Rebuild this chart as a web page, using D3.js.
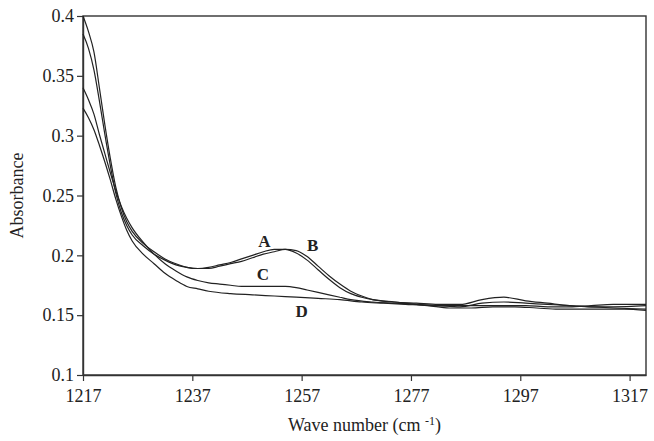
<!DOCTYPE html>
<html lang="en">
<head>
<meta charset="UTF-8">
<title>Absorbance</title>
<script src="https://d3js.org/d3.v7.min.js"></script>
<style>
  body { margin: 0; background: #fff; }
  text { font-family: "Liberation Serif", "Times New Roman", serif; fill: #222; }
  .curve { fill: none; stroke: #222; stroke-width: 1.2; }
</style>
</head>
<body>
<div id="chart"></div>
<script>
// wave numbers per spectrum
const waveA = [1217,1218,1219,1220,1221,1222,1223,1224,1225,1226,1228,1230,1232,1234,1236,1238,1240,1242,1244,1246,1248,1250,1252,1254,1256,1258,1260,1262,1264,1266,1268,1270,1274,1278,1282,1286,1290,1294,1298,1302,1306,1310,1314,1320];
const absA  = [0.400,0.387,0.370,0.340,0.309,0.281,0.257,0.240,0.228,0.220,0.210,0.203,0.197,0.193,0.190,0.189,0.190,0.192,0.194,0.197,0.200,0.203,0.205,0.205,0.202,0.196,0.188,0.180,0.173,0.168,0.165,0.163,0.161,0.160,0.159,0.159,0.163,0.165,0.162,0.160,0.158,0.157,0.156,0.155];

const waveB = [1217,1218,1219,1220,1221,1222,1223,1224,1225,1226,1228,1230,1232,1234,1236,1238,1240,1242,1244,1246,1248,1250,1252,1254,1256,1258,1260,1262,1264,1266,1268,1270,1274,1278,1282,1286,1290,1294,1298,1302,1306,1310,1314,1320];
const absB  = [0.385,0.373,0.355,0.329,0.301,0.275,0.252,0.236,0.225,0.217,0.208,0.201,0.196,0.192,0.190,0.189,0.189,0.191,0.193,0.195,0.198,0.201,0.203,0.205,0.204,0.199,0.191,0.183,0.176,0.170,0.166,0.163,0.161,0.159,0.158,0.157,0.160,0.161,0.160,0.159,0.158,0.157,0.157,0.158];

const waveC = [1217,1218,1219,1220,1221,1222,1223,1224,1225,1226,1228,1230,1232,1234,1236,1238,1240,1242,1244,1246,1250,1254,1256,1258,1260,1262,1264,1266,1270,1274,1278,1282,1286,1290,1294,1298,1302,1306,1310,1314,1320];
const absC  = [0.340,0.330,0.318,0.301,0.285,0.269,0.254,0.241,0.231,0.223,0.211,0.201,0.193,0.187,0.182,0.179,0.177,0.176,0.175,0.174,0.174,0.174,0.173,0.171,0.169,0.167,0.165,0.163,0.161,0.160,0.159,0.158,0.158,0.158,0.158,0.158,0.157,0.157,0.158,0.159,0.159];

const waveD = [1217,1218,1219,1220,1221,1222,1223,1224,1225,1226,1228,1230,1232,1234,1236,1238,1240,1244,1248,1252,1256,1260,1264,1268,1272,1276,1280,1284,1288,1292,1296,1300,1304,1308,1312,1316,1320];
const absD  = [0.323,0.315,0.305,0.292,0.278,0.263,0.247,0.233,0.221,0.212,0.201,0.193,0.185,0.179,0.174,0.172,0.170,0.168,0.167,0.166,0.165,0.164,0.163,0.161,0.160,0.159,0.158,0.156,0.156,0.157,0.157,0.156,0.155,0.155,0.155,0.155,0.154];

const curveNames = ["A", "B", "C", "D"];
const labelWave = [1250.2, 1259.0, 1249.9, 1257.0];
const labelAbs  = [0.2114, 0.2078, 0.1836, 0.1532];

const xTicks = [1217, 1237, 1257, 1277, 1297, 1317];
const yTicks = [0.1, 0.15, 0.2, 0.25, 0.3, 0.35, 0.4];

const width = 654, height = 441;
const margin = { top: 16, right: 8, bottom: 66, left: 83 };

const svg = d3.select("#chart").append("svg")
  .attr("width", width)
  .attr("height", height);

const x = d3.scaleLinear().domain([1217, 1320]).range([margin.left, width - margin.right]);
const y = d3.scaleLinear().domain([0.1, 0.4]).range([height - margin.bottom, margin.top]);

// frame
svg.append("rect")
  .attr("x", margin.left).attr("y", margin.top)
  .attr("width", width - margin.left - margin.right)
  .attr("height", height - margin.top - margin.bottom)
  .attr("fill", "none").attr("stroke", "#333").attr("stroke-width", 1.4);

// axes
const xAxis = svg.append("g")
  .attr("transform", `translate(0,${height - margin.bottom})`)
  .call(d3.axisBottom(x).tickValues(xTicks).tickFormat(d3.format("d")).tickSize(6).tickSizeOuter(0));
const yAxis = svg.append("g")
  .attr("transform", `translate(${margin.left},0)`)
  .call(d3.axisLeft(y).tickValues(yTicks).tickFormat(d => String(+d.toFixed(2))).tickSize(6).tickSizeOuter(0));

[xAxis, yAxis].forEach(g => {
  g.select(".domain").attr("stroke", "#333").attr("stroke-width", 1.4);
  g.selectAll(".tick line").attr("stroke", "#333").attr("stroke-width", 1.2);
  g.selectAll(".tick text")
    .style("font-family", '"Liberation Serif", "Times New Roman", serif')
    .style("font-size", "18px").attr("fill", "#222");
});
xAxis.selectAll(".tick text").attr("dy", "1.0em");
yAxis.selectAll(".tick text").attr("x", -9);

// spectra
const series = [[waveA, absA], [waveB, absB], [waveC, absC], [waveD, absD]];
const line = d3.line().x(d => x(d[0])).y(d => y(d[1])).curve(d3.curveMonotoneX);

svg.append("g").selectAll("path")
  .data(series)
  .join("path")
  .attr("class", "curve")
  .attr("d", s => line(s[0].map((w, i) => [w, s[1][i]])));

// curve labels
svg.append("g").selectAll("text")
  .data(curveNames)
  .join("text")
  .attr("x", (d, i) => x(labelWave[i]))
  .attr("y", (d, i) => y(labelAbs[i]))
  .attr("text-anchor", "middle")
  .attr("dominant-baseline", "central")
  .style("font-size", "17px")
  .style("font-weight", "bold")
  .text(d => d);

// axis titles
const xt = svg.append("text")
  .attr("x", (margin.left + width - margin.right) / 2)
  .attr("y", 431)
  .attr("text-anchor", "middle")
  .style("font-size", "18px");
xt.append("tspan").text("Wave number (cm ");
xt.append("tspan").attr("dy", -6).style("font-size", "12px").text("-1");
xt.append("tspan").attr("dy", 6).text(")");

svg.append("text")
  .attr("transform", `translate(23,${(margin.top + height - margin.bottom) / 2}) rotate(-90)`)
  .attr("text-anchor", "middle")
  .style("font-size", "18px")
  .text("Absorbance");
</script>
</body>
</html>
